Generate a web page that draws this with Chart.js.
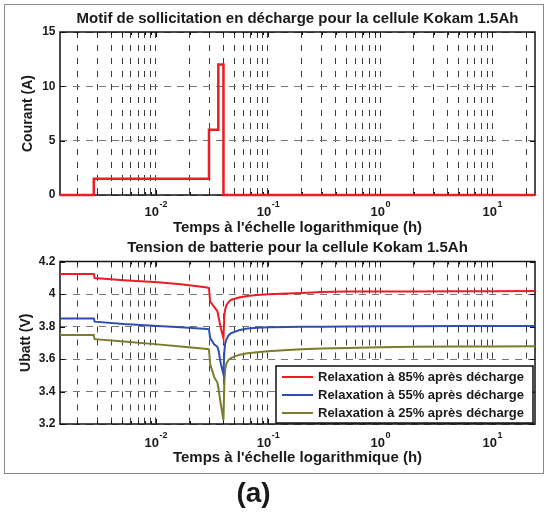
<!DOCTYPE html>
<html>
<head>
<meta charset="utf-8">
<script src="https://cdn.jsdelivr.net/npm/chart.js@4.4.1/dist/chart.umd.min.js"></script>
<style>
    body { margin: 0; background: #fff; }
    #page { position: relative; width: 545px; height: 513px; overflow: hidden; }
    #frame { position: absolute; left: 4px; top: 4px; width: 538px; height: 468px; border: 1px solid #8a8a8a; }
    #cur { position: absolute; left: 0; top: 0; }
    #volt { position: absolute; left: 0; top: 230px; }
    #label { position: absolute; left: 0; top: 479px; width: 507px; text-align: center;
             font: bold 28px "Liberation Sans", Arial, sans-serif; line-height: 28px; color: #1a1a1a; }
</style>
</head>
<body>
<div id="page">
    <div id="frame"></div>
    <canvas id="cur" width="545" height="240"></canvas>
    <canvas id="volt" width="545" height="240"></canvas>
    <div id="label">(a)</div>
</div>
<script>
// axe du temps (h), log
const timeMin = 0.0014;
const timeMax = 24;
const xDecades = [0.01, 0.1, 1, 10];
const currentTicks = [0, 5, 10, 15];
const voltTicks = [3.2, 3.4, 3.6, 3.8, 4, 4.2];

// profil de courant (A)
const currentTime = [0.0014, 0.0028, 0.0028, 0.0298, 0.0298, 0.0361, 0.0361, 0.0401, 0.0401, 24];
const currentAmps = [0, 0, 1.5, 1.5, 6, 6, 12, 12, 0, 0];

// tension (V)
const voltTime = [0.0014, 0.0028, 0.00285, 0.0052, 0.0104, 0.0167, 0.0288, 0.0298, 0.0305, 0.0331,
    0.0354, 0.0362, 0.038, 0.0401, 0.0408, 0.0414, 0.0425, 0.0445, 0.0466, 0.055,
    0.0656, 0.08, 0.1, 0.15, 0.2, 0.3, 0.5, 1, 2, 5, 10, 24];
const volt85 = [4.123, 4.123, 4.098, 4.084, 4.072, 4.060, 4.040, 4.034, 3.955, 3.920,
    3.895, 3.860, 3.790, 3.727, 3.860, 3.900, 3.930, 3.950, 3.963, 3.978,
    3.988, 3.994, 3.998, 4.003, 4.006, 4.012, 4.015, 4.016, 4.016, 4.017, 4.017, 4.018];
const volt55 = [3.850, 3.850, 3.830, 3.815, 3.803, 3.795, 3.785, 3.782, 3.730, 3.690,
    3.675, 3.655, 3.570, 3.505, 3.640, 3.690, 3.720, 3.745, 3.758, 3.777,
    3.787, 3.792, 3.795, 3.797, 3.798, 3.799, 3.800, 3.801, 3.802, 3.803, 3.803, 3.803];
const volt25 = [3.748, 3.748, 3.722, 3.707, 3.690, 3.677, 3.662, 3.658, 3.570, 3.490,
    3.455, 3.420, 3.320, 3.225, 3.450, 3.530, 3.570, 3.595, 3.605, 3.625,
    3.635, 3.642, 3.647, 3.655, 3.660, 3.665, 3.668, 3.672, 3.675, 3.677, 3.677, 3.678];
const seriesNames = ['Relaxation à 85% après décharge', 'Relaxation à 55% après décharge', 'Relaxation à 25% après décharge'];
const seriesColors = ['#ed1c24', '#2f4fae', '#7b7d2c'];

const FONT = '"Liberation Sans", Arial, Helvetica, sans-serif';
const TXT = '#1a1a1a';
Chart.defaults.font.family = FONT;

// graduations secondaires 1..9 x 10^n
const minorTicks = [];
for (let e = -3; e <= 1; e++) {
    for (let k = 1; k <= 9; k++) {
        const v = k * Math.pow(10, e);
        if (v > timeMin && v < timeMax) minorTicks.push(v);
    }
}
const isDecade = v => Math.abs(Math.log10(v) - Math.round(Math.log10(v))) < 1e-6;

// titre centré sur la zone de tracé (comme MATLAB)
const axesTitle = {
    id: 'axesTitle',
    afterDraw(chart, args, opts) {
        const { ctx, chartArea: a } = chart;
        ctx.save();
        ctx.fillStyle = TXT;
        ctx.font = 'bold 15px ' + FONT;
        ctx.textAlign = 'center';
        ctx.textBaseline = 'middle';
        ctx.fillText(opts.text, (a.left + a.right) / 2, opts.y);
        ctx.restore();
    }
};

const boxAndTicks = {
    id: 'boxAndTicks',
    beforeDatasetsDraw(chart) {
        const { ctx, chartArea: a, scales: { x, y } } = chart;
        ctx.save();
        ctx.strokeStyle = '#111';
        ctx.lineWidth = 1;
        ctx.beginPath();
        x.ticks.forEach(t => {
            const px = Math.round(x.getPixelForValue(t.value)) + 0.5;
            const len = isDecade(t.value) ? 5 : 3;
            ctx.moveTo(px, a.bottom); ctx.lineTo(px, a.bottom - len);
            ctx.moveTo(px, a.top); ctx.lineTo(px, a.top + len);
        });
        y.ticks.forEach(t => {
            const py = Math.round(y.getPixelForValue(t.value)) + 0.5;
            ctx.moveTo(a.left, py); ctx.lineTo(a.left + 5, py);
            ctx.moveTo(a.right, py); ctx.lineTo(a.right - 5, py);
        });
        ctx.stroke();
        ctx.lineWidth = 1.5;
        ctx.strokeRect(a.left, a.top, a.right - a.left, a.bottom - a.top);
        ctx.restore();
    }
};

const decadeLabels = {
    id: 'decadeLabels',
    afterDraw(chart, args, opts) {
        const { ctx, chartArea: a, scales: { x } } = chart;
        ctx.save();
        ctx.fillStyle = TXT;
        ctx.textAlign = 'left';
        ctx.textBaseline = 'alphabetic';
        xDecades.forEach(v => {
            const px = x.getPixelForValue(v);
            const exp = String(Math.round(Math.log10(v)));
            ctx.font = 'bold 13px ' + FONT;
            const wb = ctx.measureText('10').width;
            ctx.font = 'bold 9px ' + FONT;
            const we = ctx.measureText(exp).width;
            const x0 = px - (wb + we) / 2;
            ctx.font = 'bold 13px ' + FONT;
            ctx.fillText('10', x0, a.bottom + opts.dy);
            ctx.font = 'bold 9px ' + FONT;
            ctx.fillText(exp, x0 + wb + 0.5, a.bottom + opts.dy - 9);
        });
        ctx.restore();
    }
};

const boxLegend = {
    id: 'boxLegend',
    afterDatasetsDraw(chart) {
        const { ctx, chartArea: a } = chart;
        const w = 257, h = 57;
        const left = a.right - 2 - w, top = a.bottom - 1 - h;
        ctx.save();
        ctx.fillStyle = '#fff';
        ctx.fillRect(left, top, w, h);
        ctx.strokeStyle = '#111';
        ctx.lineWidth = 1.5;
        ctx.strokeRect(left, top, w, h);
        ctx.font = 'bold 13px ' + FONT;
        ctx.textBaseline = 'middle';
        chart.data.datasets.forEach((ds, i) => {
            const cy = top + 11 + i * 18;
            ctx.strokeStyle = ds.borderColor;
            ctx.lineWidth = 2;
            ctx.beginPath();
            ctx.moveTo(left + 6, cy);
            ctx.lineTo(left + 37, cy);
            ctx.stroke();
            ctx.fillStyle = TXT;
            ctx.fillText(ds.label, left + 42, cy);
        });
        ctx.restore();
    }
};

function makeOptions(o) {
    return {
        responsive: false,
        animation: false,
        devicePixelRatio: 1,
        layout: { padding: { left: 0, right: 10, top: o.areaTop, bottom: 0 } },
        elements: { point: { radius: 0 }, line: { tension: 0 } },
        plugins: {
            legend: { display: false },
            tooltip: { enabled: false },
            title: { display: false },
            axesTitle: { text: o.title, y: o.titleY },
            decadeLabels: { dy: o.labelDy }
        },
        scales: {
            x: {
                type: 'logarithmic', min: timeMin, max: timeMax,
                afterBuildTicks: s => { s.ticks = minorTicks.map(v => ({ value: v })); },
                afterFit: s => { s.height = o.xHeight; },
                ticks: { display: false },
                grid: { color: '#3c3c3c', lineWidth: 1, drawTicks: false },
                border: { display: false, dash: [6, 7] },
                title: {
                    display: true, text: "Temps à l'échelle logarithmique (h)", color: TXT,
                    font: { size: 15, weight: 'bold' }, padding: { top: 0, bottom: 3.6 }
                }
            },
            y: {
                min: o.yMin, max: o.yMax,
                afterBuildTicks: s => { s.ticks = o.yTicks.map(v => ({ value: v })); },
                afterFit: s => { s.width = 60; },
                ticks: { color: TXT, font: { size: 12, weight: 'bold' }, padding: 4.5, callback: v => String(v) },
                grid: { color: '#777', lineWidth: 1, drawTicks: false },
                border: { display: false, dash: [7, 6] },
                title: {
                    display: true, text: o.yTitle, color: TXT,
                    font: { size: 14, weight: 'bold' }, padding: { top: o.yTitlePad, bottom: 0 }
                }
            }
        }
    };
}

new Chart(document.getElementById('cur'), {
    type: 'line',
    data: {
        datasets: [{
            label: 'Courant',
            data: currentTime.map((t, i) => ({ x: t, y: currentAmps[i] })),
            borderColor: seriesColors[0],
            borderWidth: 2.5,
            clip: false
        }]
    },
    options: makeOptions({
        title: 'Motif de sollicitation en décharge pour la cellule Kokam 1.5Ah',
        areaTop: 32, titleY: 18.4, xHeight: 45, labelDy: 21,
        yMin: 0, yMax: 15, yTicks: currentTicks, yTitle: 'Courant (A)', yTitlePad: 19.6
    }),
    plugins: [boxAndTicks, decadeLabels, axesTitle]
});

const voltSeries = [volt85, volt55, volt25];
new Chart(document.getElementById('volt'), {
    type: 'line',
    data: {
        datasets: voltSeries.map((vals, k) => ({
            label: seriesNames[k],
            data: voltTime.map((t, i) => ({ x: t, y: vals[i] })),
            borderColor: seriesColors[k],
            borderWidth: 2,
            clip: false
        }))
    },
    options: makeOptions({
        title: 'Tension de batterie pour la cellule Kokam 1.5Ah',
        areaTop: 31.5, titleY: 17.4, xHeight: 46, labelDy: 23,
        yMin: 3.2, yMax: 4.2, yTicks: voltTicks, yTitle: 'Ubatt (V)', yTitlePad: 17.6
    }),
    plugins: [boxAndTicks, decadeLabels, boxLegend, axesTitle]
});
</script>
</body>
</html>
